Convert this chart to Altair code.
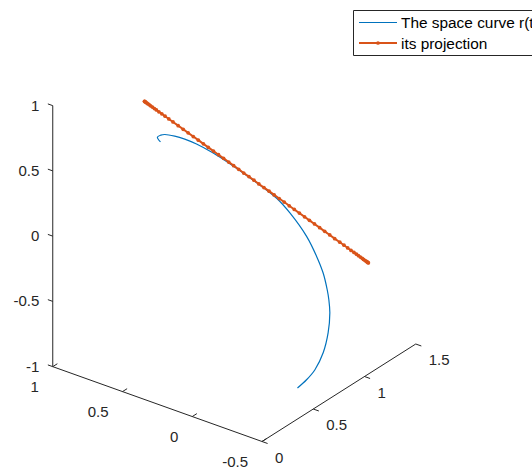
import altair as alt
import pandas as pd

# ---------------- data (3-D samples) ----------------
# The space curve r(t)
curve_x = [0.357, 0.379, 0.355, 0.326, 0.255, 0.188, 0.109, 0.002, -0.110, -0.220, -0.329, -0.406,
           -0.451, -0.481, -0.483, -0.485, -0.484, -0.481, -0.483, -0.476, -0.455, -0.421, -0.391, -0.356]
curve_y = [0.176, 0.176, 0.176, 0.176, 0.176, 0.183, 0.190, 0.203, 0.217, 0.231, 0.244, 0.271,
           0.339, 0.461, 0.556, 0.617, 0.658, 0.678, 0.685, 0.678, 0.658, 0.624, 0.583, 0.542]
curve_z = [0.880, 0.908, 0.933, 0.949, 0.964, 0.963, 0.952, 0.919, 0.871, 0.817, 0.759, 0.693,
           0.564, 0.335, 0.135, -0.022, -0.171, -0.259, -0.361, -0.513, -0.665, -0.791, -0.859, -0.915]

# its projection
proj_x = [0.710, 0.709, 0.706, 0.703, 0.699, 0.694, 0.688, 0.682, 0.674, 0.665, 0.656, 0.645, 0.632, 0.617,
          0.600, 0.581, 0.558, 0.535, 0.513, 0.490, 0.467, 0.444, 0.422, 0.399, 0.376, 0.353, 0.330, 0.308,
          0.285, 0.262, 0.239, 0.216, 0.194, 0.171, 0.148, 0.125, 0.102, 0.080, 0.057, 0.034, 0.011, -0.012,
          -0.034, -0.057, -0.080, -0.103, -0.126, -0.148, -0.171, -0.190, -0.207, -0.222, -0.235, -0.246,
          -0.255, -0.264, -0.272, -0.278, -0.284, -0.289, -0.293, -0.296, -0.299, -0.300]
proj_y = [0.500, 0.501, 0.503, 0.506, 0.509, 0.513, 0.518, 0.522, 0.529, 0.536, 0.543, 0.552, 0.563, 0.575,
          0.588, 0.603, 0.622, 0.640, 0.658, 0.677, 0.695, 0.713, 0.731, 0.750, 0.768, 0.786, 0.805, 0.823,
          0.841, 0.859, 0.878, 0.896, 0.914, 0.932, 0.951, 0.969, 0.987, 1.006, 1.024, 1.042, 1.060, 1.079,
          1.097, 1.115, 1.134, 1.152, 1.170, 1.188, 1.207, 1.222, 1.235, 1.247, 1.258, 1.267, 1.274, 1.281,
          1.288, 1.292, 1.297, 1.301, 1.304, 1.307, 1.309, 1.310]
proj_z = [0.895, 0.894, 0.890, 0.886, 0.881, 0.875, 0.868, 0.860, 0.850, 0.839, 0.828, 0.814, 0.798, 0.779,
          0.758, 0.735, 0.706, 0.678, 0.650, 0.621, 0.593, 0.565, 0.537, 0.508, 0.480, 0.452, 0.423, 0.395,
          0.367, 0.338, 0.310, 0.282, 0.253, 0.225, 0.197, 0.168, 0.140, 0.112, 0.083, 0.055, 0.027, -0.002,
          -0.030, -0.058, -0.087, -0.115, -0.143, -0.172, -0.200, -0.223, -0.244, -0.263, -0.279, -0.293,
          -0.304, -0.315, -0.325, -0.333, -0.340, -0.346, -0.351, -0.355, -0.359, -0.360]

x_lim = [-0.5, 1.0]
y_lim = [0.0, 1.5]
z_lim = [-1.0, 1.0]
x_ticks = [-0.5, 0, 0.5, 1]
y_ticks = [0, 0.5, 1, 1.5]
z_ticks = [-1, -0.5, 0, 0.5, 1]
x_tick_labels = ["-0.5", "0", "0.5", "1"]
y_tick_labels = ["0", "0.5", "1", "1.5"]
z_tick_labels = ["-1", "-0.5", "0", "0.5", "1"]
series_names = ["The space curve r(t)", "its projection"]

# ---------------- styling / camera ----------------
W, H = 532, 469
ORIGIN = (262.0, 441.5)          # screen position of (x_lim[0], y_lim[0], z_lim[0])
EX = (-139.5, -49.9)             # screen step per unit of x
EY = (102.5, -65.0)              # screen step per unit of y
EZ = (0.0, -130.5)               # screen step per unit of z
BLUE = "#0072BD"
RED = "#D95319"
AXC = "#262626"
FONT = "Liberation Sans"
FS = 15


def proj(fx, fy, fz):
    sx = (f"{ORIGIN[0]} + ({EX[0]})*(datum.{fx} - ({x_lim[0]})) + ({EY[0]})*(datum.{fy} - ({y_lim[0]}))"
          f" + ({EZ[0]})*(datum.{fz} - ({z_lim[0]}))")
    sy = (f"{ORIGIN[1]} + ({EX[1]})*(datum.{fx} - ({x_lim[0]})) + ({EY[1]})*(datum.{fy} - ({y_lim[0]}))"
          f" + ({EZ[1]})*(datum.{fz} - ({z_lim[0]}))")
    return sx, sy


SX, SY = proj("x", "y", "z")
SX2, SY2 = proj("x2", "y2", "z2")

xs = alt.Scale(domain=[0, W], nice=False, zero=False)
ys = alt.Scale(domain=[0, H], reverse=True, nice=False, zero=False)
X = alt.X("sx:Q", scale=xs, axis=None)
Y = alt.Y("sy:Q", scale=ys, axis=None)

# ---------------- box axes ----------------
rows = [
    dict(x=x_lim[0], y=y_lim[0], z=z_lim[0], x2=x_lim[1], y2=y_lim[0], z2=z_lim[0]),
    dict(x=x_lim[0], y=y_lim[0], z=z_lim[0], x2=x_lim[0], y2=y_lim[1], z2=z_lim[0]),
    dict(x=x_lim[1], y=y_lim[0], z=z_lim[0], x2=x_lim[1], y2=y_lim[0], z2=z_lim[1]),
]
for t in x_ticks:
    rows.append(dict(x=t, y=y_lim[0], z=z_lim[0], x2=t, y2=y_lim[0] + 0.045, z2=z_lim[0]))
for t in y_ticks:
    rows.append(dict(x=x_lim[0], y=t, z=z_lim[0], x2=x_lim[0] - 0.04, y2=t, z2=z_lim[0]))
for t in z_ticks:
    rows.append(dict(x=x_lim[1], y=y_lim[0], z=t, x2=x_lim[1] + 0.035, y2=y_lim[0], z2=t))

axes_layer = alt.Chart(pd.DataFrame(rows)).transform_calculate(
    sx=SX, sy=SY, sx2=SX2, sy2=SY2
).mark_rule(color=AXC, strokeWidth=1).encode(
    x=X, y=Y, x2="sx2:Q", y2="sy2:Q"
)

xl = pd.DataFrame({"x": x_ticks, "y": [y_lim[0]] * len(x_ticks), "z": [z_lim[0]] * len(x_ticks),
                   "label": x_tick_labels})
yl = pd.DataFrame({"x": [x_lim[0]] * len(y_ticks), "y": y_ticks, "z": [z_lim[0]] * len(y_ticks),
                   "label": y_tick_labels})
zl = pd.DataFrame({"x": [x_lim[1]] * len(z_ticks), "y": [y_lim[0]] * len(z_ticks), "z": z_ticks,
                   "label": z_tick_labels})

text_kw = dict(font=FONT, fontSize=FS, color=AXC, baseline="middle")
x_text = alt.Chart(xl).transform_calculate(sx=SX, sy=SY).mark_text(
    align="right", dx=-14, dy=20, **text_kw).encode(x=X, y=Y, text="label:N")
y_text = alt.Chart(yl).transform_calculate(sx=SX, sy=SY).mark_text(
    align="left", dx=13, dy=16, **text_kw).encode(x=X, y=Y, text="label:N")
z_text = alt.Chart(zl).transform_calculate(sx=SX, sy=SY).mark_text(
    align="right", dx=-13.5, dy=0, **text_kw).encode(x=X, y=Y, text="label:N")

# ---------------- curves ----------------
curve_df = pd.DataFrame({"x": curve_x, "y": curve_y, "z": curve_z, "i": list(range(len(curve_x)))})
proj_df = pd.DataFrame({"x": proj_x, "y": proj_y, "z": proj_z, "i": list(range(len(proj_x)))})

curve_layer = alt.Chart(curve_df).transform_calculate(sx=SX, sy=SY).mark_line(
    color=BLUE, strokeWidth=1.2, interpolate="catmull-rom"
).encode(x=X, y=Y, order="i:Q")

proj_base = alt.Chart(proj_df).transform_calculate(sx=SX, sy=SY)
proj_line = proj_base.mark_line(color=RED, strokeWidth=2.0).encode(x=X, y=Y, order="i:Q")
proj_pts = proj_base.mark_point(color=RED, filled=True, size=14, opacity=1).encode(x=X, y=Y)

# ---------------- legend ----------------
one = pd.DataFrame({"k": [0]})
leg_box = alt.Chart(one).mark_rect(fill="white", stroke=AXC, strokeWidth=1).encode(
    x=alt.value(353.5), x2=alt.value(545), y=alt.value(10.5), y2=alt.value(55.5))
leg_l1 = alt.Chart(one).mark_rule(color=BLUE, strokeWidth=1.2).encode(
    x=alt.value(359), x2=alt.value(397), y=alt.value(22.5))
leg_l2 = alt.Chart(one).mark_rule(color=RED, strokeWidth=1.8).encode(
    x=alt.value(359), x2=alt.value(397), y=alt.value(43))
leg_dot = alt.Chart(one).mark_point(color=RED, filled=True, size=14, opacity=1).encode(
    x=alt.value(378), y=alt.value(43))
leg_t1 = alt.Chart(one).mark_text(align="left", baseline="middle", font=FONT, fontSize=15.4,
                                  color="black", text=series_names[0]).encode(
    x=alt.value(401), y=alt.value(23))
leg_t2 = alt.Chart(one).mark_text(align="left", baseline="middle", font=FONT, fontSize=15.4,
                                  color="black", text=series_names[1]).encode(
    x=alt.value(401), y=alt.value(43.5))

chart = alt.layer(
    axes_layer, x_text, y_text, z_text,
    curve_layer, proj_line, proj_pts,
    leg_box, leg_l1, leg_l2, leg_dot, leg_t1, leg_t2,
).properties(
    width=W, height=H, autosize="none", padding=0, background="white"
).configure_view(stroke=None)

chart.save("out.html", embed_options={"renderer": "svg", "actions": False})
